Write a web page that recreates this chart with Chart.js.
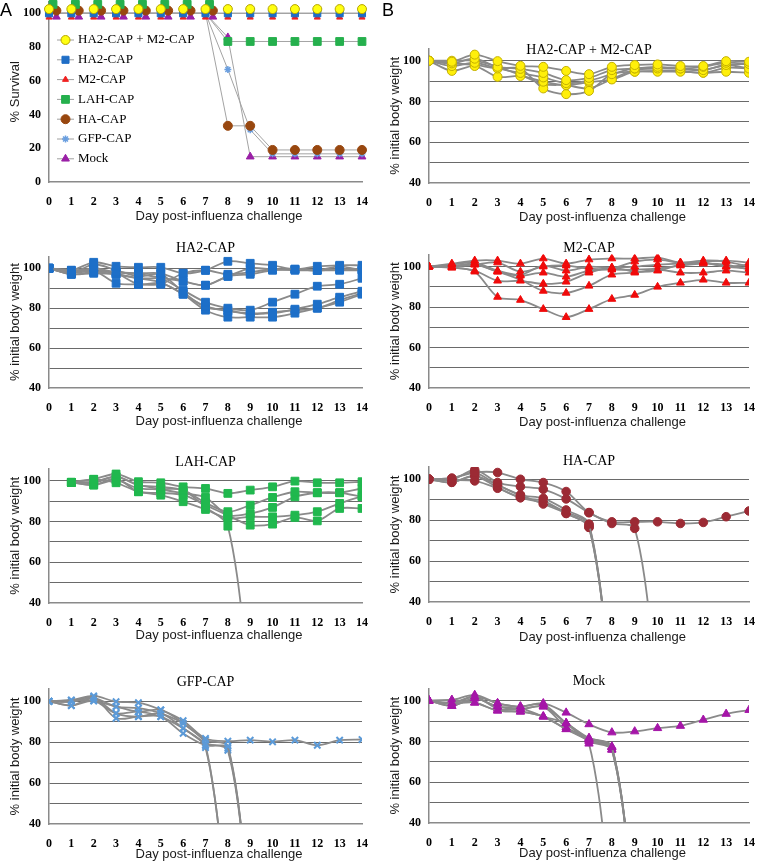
<!DOCTYPE html>
<html>
<head>
<meta charset="utf-8">
<script src="https://cdn.jsdelivr.net/npm/chart.js@4.4.1/dist/chart.umd.min.js"></script>
<style>
  html, body { margin: 0; padding: 0; background: #fff; }
  body { width: 760px; height: 863px; position: relative; overflow: hidden; }
  .tag { position: absolute; font: 18px "Liberation Sans", Arial, sans-serif; line-height: 1; color: #000; z-index: 2; }
</style>
</head>
<body>
<div class="tag" style="left:0px;top:1px">A</div>
<div class="tag" style="left:382px;top:1px">B</div>
<script>
const days = [0, 1, 2, 3, 4, 5, 6, 7, 8, 9, 10, 11, 12, 13, 14];
const survTicks = [0, 20, 40, 60, 80, 100];
const weightTicks = [40, 60, 80, 100];

// % survival per group
const survLabels = ["HA2-CAP + M2-CAP", "HA2-CAP", "M2-CAP", "LAH-CAP", "HA-CAP", "GFP-CAP", "Mock"];
const survHa2m2 = [100, 100, 100, 100, 100, 100, 100, 100, 100, 100, 100, 100, 100, 100, 100];
const survHa2 = [100, 100, 100, 100, 100, 100, 100, 100, 100, 100, 100, 100, 100, 100, 100];
const survM2 = [100, 100, 100, 100, 100, 100, 100, 100, 100, 100, 100, 100, 100, 100, 100];
const survLah = [100, 100, 100, 100, 100, 100, 100, 100, 83.3, 83.3, 83.3, 83.3, 83.3, 83.3, 83.3];
const survHa = [100, 100, 100, 100, 100, 100, 100, 100, 33.3, 33.3, 19, 19, 19, 19, 19];
const survGfp = [100, 100, 100, 100, 100, 100, 100, 100, 66.7, 31, 16.7, 16.7, 16.7, 16.7, 16.7];
const survMock = [100, 100, 100, 100, 100, 100, 100, 100, 85.7, 15, 15, 15, 15, 15, 15];

// % initial body weight, one array per mouse (0 = died that day)
const ha2m2Weights = [
  [100, 99.5, 103, 99.8, 97.5, 97, 95, 93.4, 97, 97.9, 98.2, 97.4, 97.4, 99.8, 99.5],
  [100, 98.7, 101, 97, 96, 94, 90.5, 91.6, 95.4, 96.2, 97, 96.2, 97, 99, 98.4],
  [100, 97.4, 99, 96.2, 94, 91.8, 89, 90.2, 93.4, 96.2, 96.2, 96.2, 95.4, 97.9, 96.2],
  [100, 95, 97.4, 92.1, 92.5, 89.7, 88, 89.5, 90.8, 94.6, 94.6, 94.6, 94.1, 94.6, 94.1],
  [100, 98.7, 98, 96.2, 96.2, 86.4, 83.6, 85.2, 93.4, 94.6, 95, 95, 94.1, 96.5, 96.2],
  [100, 100, 100, 97, 93, 88.5, 88, 86.4, 91, 95.5, 96.2, 96, 95.4, 97.9, 98.4]
];
const ha2Weights = [
  [100, 99, 103, 101, 100.5, 100.5, 97.5, 99, 103.5, 102.5, 101.5, 99.5, 101, 101.5, 101.5],
  [100, 98, 100, 98, 97.5, 97.5, 93.5, 91.5, 96, 100, 99.5, 99.5, 99, 99.5, 99.5],
  [100, 97, 98, 97, 95, 95, 93.5, 91.5, 96, 97, 99, 99.5, 99, 101, 99],
  [100, 99, 99, 92.5, 92, 92, 97.5, 99, 97, 98, 99.5, 99, 99, 99, 99],
  [100, 98, 98.5, 98, 97, 95, 89, 83, 80, 79, 83, 87, 91, 92, 95],
  [100, 97, 97.5, 97, 95, 93, 87, 81, 78.5, 77.5, 77.5, 79.5, 82, 85.5, 88.5],
  [100, 98.5, 99, 97.5, 92, 92.5, 87, 79, 75.5, 75.5, 75.5, 77.5, 80, 83, 87],
  [100, 97.5, 102, 99, 96, 97, 88, 80.5, 79, 77, 78, 79, 80, 84, 87.5]
];
const m2Weights = [
  [100, 101.5, 103, 103, 101.5, 104, 101.5, 103.5, 104, 104, 104.5, 102, 102.5, 103, 102],
  [100, 101, 102, 98, 96, 100.5, 98, 100, 99.5, 100, 101, 101.5, 102, 100, 101],
  [100, 100, 101.5, 97.5, 95.5, 97, 95, 98, 99, 102.5, 103.5, 102, 103, 102.5, 100],
  [100, 99.5, 98, 93, 93, 91.5, 92.5, 97, 99.5, 97.5, 98, 101, 102, 100, 99],
  [100, 100.5, 101, 97.5, 93.5, 88, 87, 90.5, 96, 97, 98.5, 97, 97, 98, 97],
  [100, 99.5, 97.5, 85, 83.5, 79, 75, 79, 84, 86, 90, 92, 93.5, 92, 92],
  [100, 100, 101, 102, 97.5, 100, 100.5, 99, 98.5, 98.5, 99, 100.5, 101.5, 101, 98.5]
];
const lahWeights = [
  [null, 99.2, 100.7, 103.3, 99.5, 99, 97, 96.2, 93.8, 95.4, 97, 99.8, 99, 99, 99.5],
  [null, 99.2, 99.5, 102, 97.9, 97, 95.4, 89.2, 84.8, 88, 91.8, 94.6, 94.1, 94.1, 96.2],
  [null, 99.2, 97.9, 100.3, 96.2, 95.7, 93.8, 91.8, 83.1, 83.9, 86.9, 92.1, 94.1, 94.1, 92.1],
  [null, 99.2, 100.7, 99, 94.6, 92.9, 89.7, 85.9, 81.5, 82.3, 82.3, 83.1, 84.8, 88.9, 92.5],
  [null, 99.2, 97.9, 101, 94.6, 94, 93, 88, 83, 78.2, 78.7, 82, 80.3, 86.4, 86.4],
  [null, 99.2, 99, 102, 97.9, 96, 95.4, 87, 77.7, 0]
];
const haWeights = [
  [100, 100.5, 103.3, 103.3, 100, 98.4, 94, 83.7, 79.2, 79.2, 79.2, 78.4, 78.9, 81.7, 84.5],
  [100, 99.7, 104.6, 98.4, 96.4, 95.1, 90.4, 83.7, 78.4, 76, 0],
  [100, 98.5, 101.6, 97.2, 92.3, 90.7, 85, 78.1, 0],
  [100, 99.7, 99.2, 95.6, 91, 89.4, 83.3, 76.5, 0],
  [100, 100.5, 103.3, 97.2, 92.3, 87.9, 83.3, 76.5, 0],
  [100, 98.5, 101.6, 96, 91, 88.5, 84, 77.5, 0]
];
const gfpWeights = [
  [100, 100.6, 102.6, 99.8, 99.3, 95.8, 90.5, 81.8, 80.5, 81, 80.2, 81, 78.5, 81, 81.3],
  [100, 99.8, 101.5, 97.4, 96.6, 94.1, 89.2, 81, 78, 0],
  [100, 97.9, 100.2, 94.1, 94.9, 92.5, 86.8, 79.5, 76, 0],
  [100, 99.8, 102, 91.7, 92.5, 92.5, 84.3, 78.5, 77, 0],
  [100, 97.9, 101.5, 94.1, 92.5, 94.1, 86.8, 77.4, 0],
  [100, 100.6, 100.2, 97.4, 94.9, 95.8, 89.2, 78.5, 0]
];
const mockWeights = [
  [100, 98.7, 102, 98.7, 97.1, 98.7, 94.1, 88.4, 84.4, 84.9, 86.5, 87.6, 90.6, 93.5, 95.4],
  [100, 97.4, 101.1, 97.1, 95.8, 97.1, 89, 81.6, 77.2, 0],
  [100, 100.3, 102.8, 98.7, 96.5, 92.2, 88.9, 81, 77, 0],
  [100, 98.7, 99, 95.1, 94.6, 92.2, 86, 80.5, 76, 0],
  [100, 97.4, 101.1, 97.1, 97.1, 98, 88.9, 80, 75.9, 0],
  [100, 98.7, 102, 96, 95.8, 97.1, 87, 81.6, 77.5, 0],
  [100, 100.3, 99, 95.1, 94.6, 92.2, 86, 78.9, 0]
];

// marker styles
const survStyles = [
  { shape: "circle", r: 4.5, fill: "#ffff10", edge: "#b5a400", bw: 1 },
  { shape: "rect", r: 5, fill: "#1f6ec6", edge: "#1f6ec6", bw: 1 },
  { shape: "triangle", r: 3.5, fill: "#f02020", edge: "#f02020", bw: 1 },
  { shape: "rect", r: 5.5, fill: "#25b04d", edge: "#25b04d", bw: 1 },
  { shape: "circle", r: 4.5, fill: "#98470f", edge: "#98470f", bw: 1 },
  { shape: "star", r: 3.5, fill: "#6a9fe0", edge: "#6a9fe0", bw: 1.5 },
  { shape: "triangle", r: 4.5, fill: "#9a1fa6", edge: "#9a1fa6", bw: 1 }
];
// small display offsets used where the 100 % markers overlap
const survJitter = [
  { dx: 0, dy: 2.5 }, { dx: 0, dy: 0 }, { dx: 0, dy: -2.4 }, { dx: 0.18, dy: 5.3 },
  { dx: 0.33, dy: 1.6 }, { dx: 0, dy: 0 }, { dx: 0.33, dy: -2.1 }
];

function drawMarker(ctx, st, x, y) {
  const r = st.r;
  ctx.save();
  ctx.fillStyle = st.fill;
  ctx.strokeStyle = st.edge;
  ctx.lineWidth = st.bw;
  ctx.beginPath();
  if (st.shape === "circle") {
    ctx.arc(x, y, r, 0, Math.PI * 2);
  } else if (st.shape === "rect") {
    const s = r * Math.SQRT1_2;
    ctx.rect(x - s, y - s, 2 * s, 2 * s);
  } else if (st.shape === "triangle") {
    let a = 0;
    for (let k = 0; k < 3; k++) {
      const px = x + Math.sin(a) * r, py = y - Math.cos(a) * r;
      k === 0 ? ctx.moveTo(px, py) : ctx.lineTo(px, py);
      a += Math.PI * 2 / 3;
    }
    ctx.closePath();
  } else if (st.shape === "star") {
    for (let k = 0; k < 4; k++) {
      const a = k * Math.PI / 4;
      ctx.moveTo(x - Math.cos(a) * r, y - Math.sin(a) * r);
      ctx.lineTo(x + Math.cos(a) * r, y + Math.sin(a) * r);
    }
  }
  if (st.shape !== "star") ctx.fill();
  ctx.stroke();
  ctx.restore();
}

const panelText = {
  id: "panelText",
  afterDraw(chart, args, opts) {
    const { ctx, chartArea } = chart;
    const cx = (chartArea.left + chartArea.right) / 2;
    ctx.save();
    ctx.textAlign = "center";
    ctx.textBaseline = "middle";
    ctx.fillStyle = "#000";
    if (opts.title) {
      ctx.font = '14px "Liberation Serif", "Times New Roman", serif';
      ctx.fillText(opts.title, cx, chartArea.top + opts.titleDy);
    }
    ctx.font = '13px "Liberation Sans", Arial, sans-serif';
    ctx.fillStyle = "#1a1a1a";
    ctx.fillText("Day post-influenza challenge", cx + 13.5, chartArea.bottom + opts.xTitleDy);
    ctx.restore();
  }
};

const survLegend = {
  id: "survLegend",
  afterDatasetsDraw(chart, args, opts) {
    if (!opts.show) return;
    const ctx = chart.ctx;
    const top = chart.chartArea.top + opts.top;
    survLabels.forEach((label, i) => {
      const y = top + i * opts.gap;
      ctx.save();
      ctx.strokeStyle = "#a0a0a0";
      ctx.lineWidth = 1;
      ctx.beginPath();
      ctx.moveTo(opts.x, y);
      ctx.lineTo(opts.x + 17, y);
      ctx.stroke();
      ctx.restore();
      drawMarker(ctx, survStyles[i], opts.x + 8.5, y);
      ctx.save();
      ctx.fillStyle = "#000";
      ctx.font = '13px "Liberation Serif", "Times New Roman", serif';
      ctx.textBaseline = "middle";
      ctx.fillText(label, opts.x + 21, y);
      ctx.restore();
    });
  }
};

const serifBold = { family: '"Liberation Serif", "Times New Roman", serif', size: 12, weight: "bold" };

function makePanel(box, datasets, yConf, textOpts, legendOpts) {
  const canvas = document.createElement("canvas");
  const top = Math.round(box.plotTop - 16);
  const height = Math.round(box.plotBottom + 44 - top);
  canvas.width = 380;
  canvas.height = height;
  canvas.style.cssText = "position:absolute;left:" + box.left + "px;top:" + top + "px;width:380px;height:" + height + "px";
  document.body.appendChild(canvas);

  return new Chart(canvas.getContext("2d"), {
    type: "line",
    data: { datasets: datasets },
    options: {
      responsive: false,
      animation: false,
      devicePixelRatio: 1,
      layout: { padding: { left: 0, right: 380 - (box.plotRight - box.left), top: box.plotTop - top, bottom: 0 } },
      plugins: {
        legend: { display: false },
        tooltip: { enabled: false },
        panelText: textOpts,
        survLegend: legendOpts || { show: false }
      },
      scales: {
        x: {
          type: "linear",
          min: 0,
          max: 14,
          afterFit(scale) { scale.height = 44; },
          ticks: { stepSize: 1, autoSkip: false, maxRotation: 0, padding: 5, color: "#000", font: serifBold },
          grid: { display: false },
          border: { display: true, color: "#8a8a8a", width: 1.5 }
        },
        y: {
          min: yConf.min,
          max: yConf.max,
          afterFit(scale) { scale.width = 49; },
          ticks: {
            stepSize: yConf.step,
            includeBounds: false,
            autoSkip: false,
            padding: 8,
            color: "#000",
            font: serifBold,
            callback: (v) => (yConf.labels.includes(v) ? v : "")
          },
          grid: {
            display: yConf.grid,
            drawTicks: false,
            color: (c) => (c.tick && c.tick.value >= 50 && c.tick.value <= 100 ? "#6a6a6a" : "rgba(0,0,0,0)"),
            lineWidth: 1
          },
          border: { display: true, color: "#8a8a8a", width: 1.5 },
          title: {
            display: true,
            text: yConf.title,
            color: "#1a1a1a",
            padding: { top: 8, bottom: 0 },
            font: { family: '"Liberation Sans", Arial, sans-serif', size: 13 }
          }
        }
      }
    },
    plugins: [panelText, survLegend]
  });
}

// panel A: survival
const survSeries = [survHa2m2, survHa2, survM2, survLah, survHa, survGfp, survMock];
const survSets = [];
survSeries.forEach((vals) => {
  survSets.push({
    data: days.map((d, i) => ({ x: d, y: vals[i] })),
    borderColor: "#a3a3a3",
    borderWidth: 1,
    pointRadius: 0,
    tension: 0,
    order: 2
  });
});
survSeries.forEach((vals, g) => {
  const st = survStyles[g], j = survJitter[g];
  survSets.push({
    data: days.map((d, i) => ({ x: d + (vals[i] === 100 ? j.dx : 0), y: vals[i] + (vals[i] === 100 ? j.dy : 0) })),
    showLine: false,
    clip: false,
    pointStyle: st.shape,
    pointRadius: st.r,
    pointBackgroundColor: st.fill,
    pointBorderColor: st.edge,
    pointBorderWidth: st.bw,
    order: 1
  });
});
makePanel(
  { left: 0, plotTop: 1.5, plotBottom: 182.3, plotRight: 362 },
  survSets,
  { min: 0, max: 107, step: 20, labels: survTicks, grid: false, title: "% Survival" },
  { title: "", titleDy: 0, xTitleDy: 34.5 },
  { show: true, x: 57, top: 38.5, gap: 19.8 }
);

// panels B: body weight
const weightStyles = {
  ha2m2: { shape: "circle", r: 4.5, fill: "#ffef0a", edge: "#c4b000", bw: 1 },
  ha2: { shape: "rect", r: 5.5, fill: "#1d6fc8", edge: "#1d6fc8", bw: 1 },
  m2: { shape: "triangle", r: 4.5, fill: "#f00a0a", edge: "#f00a0a", bw: 1 },
  lah: { shape: "rect", r: 5.5, fill: "#20b84e", edge: "#20b84e", bw: 1 },
  ha: { shape: "circle", r: 4.3, fill: "#9c2a34", edge: "#9c2a34", bw: 1 },
  gfp: { shape: "crossRot", r: 4.5, fill: "#5b9ad8", edge: "#5b9ad8", bw: 2 },
  mock: { shape: "triangle", r: 4.8, fill: "#a516a8", edge: "#a516a8", bw: 1 }
};

function mouseSets(weights, st) {
  return weights.map((w) => ({
    data: days.map((d, i) => ({ x: d, y: w[i] === undefined ? null : w[i] })),
    borderColor: "#8a8a8a",
    borderWidth: 1.8,
    tension: 0.3,
    spanGaps: false,
    pointStyle: st.shape,
    pointRadius: st.r,
    pointBackgroundColor: st.fill,
    pointBorderColor: st.edge,
    pointBorderWidth: st.bw
  }));
}

const weightY = { min: 40, max: 106, step: 10, labels: weightTicks, grid: true, title: "% initial body weight" };

const weightPanels = [
  { w: ha2m2Weights, st: weightStyles.ha2m2, title: "HA2-CAP + M2-CAP", box: { left: 380, plotTop: 48.5, plotBottom: 182.7, plotRight: 752 }, titleDy: 2.2, xTitleDy: 34.3 },
  { w: ha2Weights, st: weightStyles.ha2, title: "HA2-CAP", box: { left: 0, plotTop: 256.3, plotBottom: 388.3, plotRight: 362 }, titleDy: -8, xTitleDy: 33.4 },
  { w: m2Weights, st: weightStyles.m2, title: "M2-CAP", box: { left: 380, plotTop: 254.5, plotBottom: 388.3, plotRight: 752 }, titleDy: -6.2, xTitleDy: 34 },
  { w: lahWeights, st: weightStyles.lah, title: "LAH-CAP", box: { left: 0, plotTop: 468.5, plotBottom: 602.7, plotRight: 362 }, titleDy: -5.8, xTitleDy: 32.3 },
  { w: haWeights, st: weightStyles.ha, title: "HA-CAP", box: { left: 380, plotTop: 467, plotBottom: 601.7, plotRight: 752 }, titleDy: -5.3, xTitleDy: 35 },
  { w: gfpWeights, st: weightStyles.gfp, title: "GFP-CAP", box: { left: 0, plotTop: 689, plotBottom: 823.7, plotRight: 362 }, titleDy: -6.3, xTitleDy: 30.3 },
  { w: mockWeights, st: weightStyles.mock, title: "Mock", box: { left: 380, plotTop: 688.4, plotBottom: 823.3, plotRight: 752 }, titleDy: -6.7, xTitleDy: 30.6 }
];

weightPanels.forEach((p) => {
  makePanel(p.box, mouseSets(p.w, p.st), weightY, { title: p.title, titleDy: p.titleDy, xTitleDy: p.xTitleDy });
});
</script>
</body>
</html>
